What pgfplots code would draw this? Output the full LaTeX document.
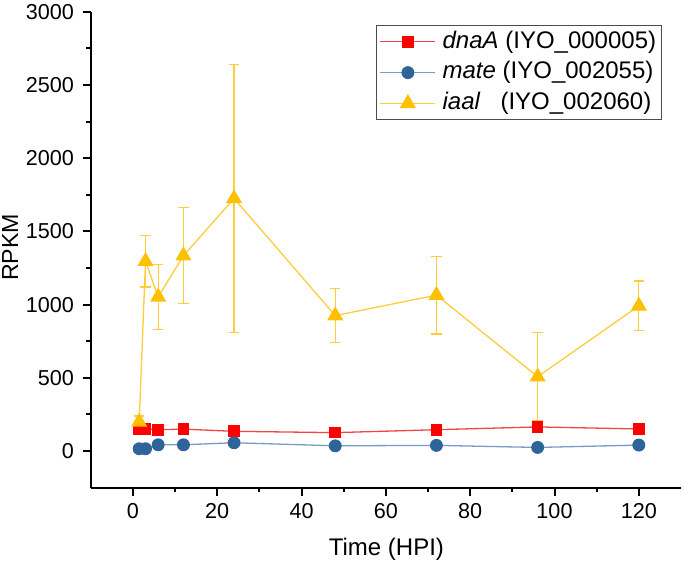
\documentclass[border=0pt]{standalone}
\usepackage{fontspec}
\setmainfont{Liberation Sans}
\usepackage{pgfplots}
\pgfplotsset{compat=1.18}
\usetikzlibrary{calc}

\definecolor{cred}{RGB}{255,0,0}
\definecolor{credl}{RGB}{240,70,70}
\definecolor{cblue}{RGB}{46,100,153}
\definecolor{cbluel}{RGB}{120,155,200}
\definecolor{cyel}{RGB}{255,192,0}
\definecolor{cyell}{RGB}{255,205,60}

\begin{document}
\begin{tikzpicture}
\begin{axis}[
  scale only axis,
  width=295.15pt, height=238pt,
  xmin=-10, xmax=130, ymin=-250, ymax=3000,
  axis lines=left,
  axis line style={-, black, line width=1pt},
  xtick={0,20,...,120}, ytick={0,500,...,3000},
  minor x tick num=1, minor y tick num=1,
  tick align=outside,
  major tick length=4pt, minor tick length=2.2pt,
  tick style={black, line width=1pt},
  /pgf/number format/assume math mode=true,
  /pgf/number format/1000 sep={},
  ticklabel style={font=\fontsize{10.8}{12}\selectfont},
  yticklabel style={xshift=-0.9pt},
  xticklabel style={yshift=-0.2pt},
  xlabel={Time (HPI)}, ylabel={RPKM},
  xlabel style={font=\fontsize{12}{14}\selectfont,
    at={(axis description cs:0.501,-0.1414)}, anchor=base},
  ylabel style={font=\fontsize{11.6}{13}\selectfont,
    at={(axis description cs:-0.123,0.505)}, anchor=base},
  legend style={at={(0.967,0.972)}, anchor=north east, draw=black!70,
    font=\fontsize{12}{14}\selectfont, inner sep=1.5pt,
    nodes={inner sep=1pt, text height=8.8pt, text depth=2.6pt},
    row sep=2pt, column sep=2.3pt},
  legend cell align=left,
  legend image code/.code={
    \draw[mark repeat=2,mark phase=2] plot coordinates {(0pt,0pt) (13.75pt,0pt) (27.5pt,0pt)};
  },
]
\addplot[credl, line width=0.65pt, mark=square*,
  mark options={cred, fill=cred, mark size=2.6pt}]
  coordinates {
  (1.5,153) (3,153) (6,146) (12,150) (24,135) (48,126) (72,146) (96,165) (120,151)
};
\addlegendentry{\textit{dnaA} (IYO\_000005)}

\addplot[cbluel, line width=0.65pt, mark=*,
  mark options={cblue, fill=cblue, mark size=2.9pt}]
  coordinates {
  (1.5,16) (3,16) (6,43) (12,43) (24,57) (48,36) (72,39) (96,25) (120,41)
};
\addlegendentry{\textit{mate} (IYO\_002055)}

\addplot[cyell, line width=0.65pt, mark=triangle*,
  mark options={cyel, fill=cyel, mark size=4pt},
  error bars/.cd, y dir=both, y explicit,
  error bar style={cyell, line width=0.65pt},
  error mark options={rotate=90, cyell, mark size=2.6pt, line width=0.65pt}]
  coordinates {
  (1.5,199) +- (0,40)
  (3,1296) +- (0,175)
  (6,1053) +- (0,222)
  (12,1334) +- (0,327)
  (24,1725) +- (0,915)
  (48,925) +- (0,185)
  (72,1065) +- (0,265)
  (96,508) +- (0,300)
  (120,991) +- (0,170)
};
\addlegendentry{\textit{iaal}\ \ \ (IYO\_002060)}
\end{axis}
\pgfresetboundingbox
\useasboundingbox ($(current axis.south west)+(-45.35pt,-38.15pt)$)
  rectangle ($(current axis.north east)+(2pt,5.85pt)$);
\end{tikzpicture}
\end{document}
